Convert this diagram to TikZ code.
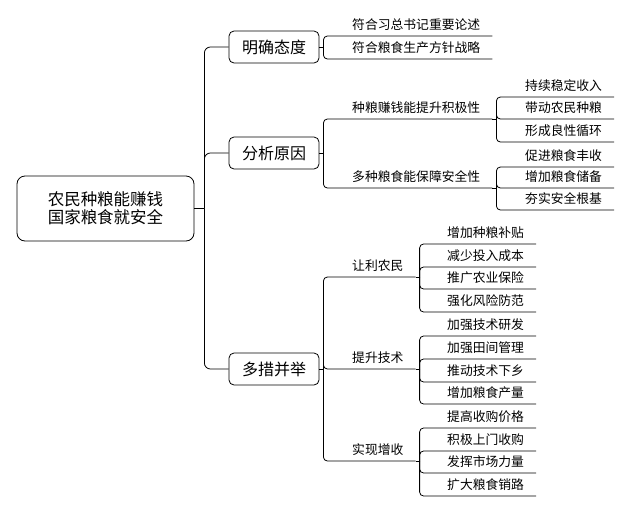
\documentclass[tikz,border=0pt]{standalone}
\usepackage{fontspec}
\newfontfamily\cjk{Noto Sans CJK SC}
\usetikzlibrary{positioning}
\newcommand{\twig}[2]% bracket, child
{(#1) |- (#2.south east)
}
\tikzset{
  link/.style={line width=0.8pt, rounded corners=4pt},
  rootbox/.style={draw, line width=0.8pt, rounded corners=8pt, minimum width=177pt, minimum height=65pt, inner sep=0pt, align=center, font=\cjk\fontsize{16.5}{18}\selectfont},
  mainbox/.style={draw, line width=0.8pt, rounded corners=5pt, minimum width=90pt, minimum height=32pt, inner sep=0pt, font=\cjk\fontsize{16}{18}\selectfont},
  leaf/.style={anchor=south west, inner xsep=12pt, inner ysep=4pt, text height=10pt, text depth=2.6pt, font=\cjk\fontsize{12.8}{14}\selectfont},
}

\begin{document}
\begin{tikzpicture}[x=1pt, y=-1pt]
  \useasboundingbox (0,0) rectangle (630,512);
  \node[rootbox] (root) at (105.5,208.5) {农民种粮能赚钱\\国家粮食就安全};
  \node[mainbox] (att) at (274,47) {明确态度};
  \node[mainbox] (why) at (274,153) {分析原因};
  \node[mainbox] (act) at (274,369) {多措并举};
  % second level
  \node[leaf] (att1) at (340,36) {符合习总书记重要论述};
  \node[leaf] (att2) at (340,59) {符合粮食生产方针战略};
  \node[leaf] (why1) at (340,119) {种粮赚钱能提升积极性};
  \node[leaf] (why2) at (340,188) {多种粮食能保障安全性};
  \node[leaf] (act1) at (340,277) {让利农民};
  \node[leaf] (act2) at (340,369) {提升技术};
  \node[leaf] (act3) at (340,461) {实现增收};
  % third level
  \node[leaf] (why11) at (513,97) {持续稳定收入};
  \node[leaf] (why12) at (513,119) {带动农民种粮};
  \node[leaf] (why13) at (513,142) {形成良性循环};
  \node[leaf] (why21) at (513,167) {促进粮食丰收};
  \node[leaf] (why22) at (513,188) {增加粮食储备};
  \node[leaf] (why23) at (513,210) {夯实安全根基};
  \node[leaf] (act11) at (435,244) {增加种粮补贴};
  \node[leaf] (act12) at (435,267) {减少投入成本};
  \node[leaf] (act13) at (435,289) {推广农业保险};
  \node[leaf] (act14) at (435,312) {强化风险防范};
  \node[leaf] (act21) at (435,336) {加强技术研发};
  \node[leaf] (act22) at (435,359) {加强田间管理};
  \node[leaf] (act23) at (435,382) {推动技术下乡};
  \node[leaf] (act24) at (435,404) {增加粮食产量};
  \node[leaf] (act31) at (435,428) {提高收购价格};
  \node[leaf] (act32) at (435,451) {积极上门收购};
  \node[leaf] (act33) at (435,473) {发挥市场力量};
  \node[leaf] (act34) at (435,496) {扩大粮食销路};
  % brackets
  \coordinate[right=10pt of root.east] (trunk);
  \coordinate[right=4pt of att.east] (batt);
  \coordinate[right=4pt of why.east] (bwhy);
  \coordinate[right=4pt of act.east] (bact);
  \coordinate[right=4pt of why1.south east] (bwhy1);
  \coordinate[right=4pt of why2.south east] (bwhy2);
  \coordinate[right=4pt of act1.south east] (bact1);
  \coordinate[right=4pt of act2.south east] (bact2);
  \coordinate[right=4pt of act3.south east] (bact3);
  \draw[link] (root.east) -- (trunk);
  \draw[link, rounded corners=6pt] (trunk) |- (att.west);
  \draw[link, rounded corners=6pt] (trunk) |- (why.west);
  \draw[link, rounded corners=6pt] (trunk) |- (act.west);
  \draw[link] (att.east) -- (batt);
  \draw[link] \twig{batt}{att1};
  \draw[link] \twig{batt}{att2};
  \draw[link] (why.east) -- (bwhy);
  \draw[link] \twig{bwhy}{why1};
  \draw[link] \twig{bwhy}{why2};
  \draw[link] (act.east) -- (bact);
  \draw[link] \twig{bact}{act1};
  \draw[link] \twig{bact}{act2};
  \draw[link] \twig{bact}{act3};
  \draw[link] (why1.south east) -- (bwhy1);
  \draw[link] \twig{bwhy1}{why11};
  \draw[link] \twig{bwhy1}{why12};
  \draw[link] \twig{bwhy1}{why13};
  \draw[link] (why2.south east) -- (bwhy2);
  \draw[link] \twig{bwhy2}{why21};
  \draw[link] \twig{bwhy2}{why22};
  \draw[link] \twig{bwhy2}{why23};
  \draw[link] (act1.south east) -- (bact1);
  \draw[link] \twig{bact1}{act11};
  \draw[link] \twig{bact1}{act12};
  \draw[link] \twig{bact1}{act13};
  \draw[link] \twig{bact1}{act14};
  \draw[link] (act2.south east) -- (bact2);
  \draw[link] \twig{bact2}{act21};
  \draw[link] \twig{bact2}{act22};
  \draw[link] \twig{bact2}{act23};
  \draw[link] \twig{bact2}{act24};
  \draw[link] (act3.south east) -- (bact3);
  \draw[link] \twig{bact3}{act31};
  \draw[link] \twig{bact3}{act32};
  \draw[link] \twig{bact3}{act33};
  \draw[link] \twig{bact3}{act34};
\end{tikzpicture}
\end{document}
